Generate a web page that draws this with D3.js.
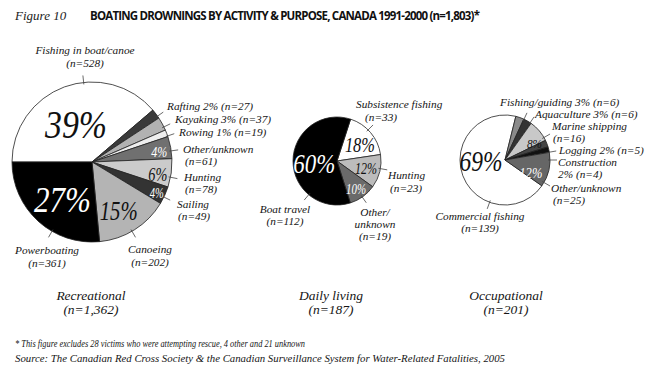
<!DOCTYPE html>
<html>
<head>
<meta charset="utf-8">
<script src="https://cdn.jsdelivr.net/npm/d3@7"></script>
<style>
  body { margin: 0; background: #fff; }
</style>
</head>
<body>
<script>
// Recreational
var recCategories = ["Fishing in boat/canoe", "Rafting", "Kayaking", "Rowing", "Other/unknown", "Hunting", "Sailing", "Canoeing", "Powerboating"];
var recCounts = [528, 27, 37, 19, 61, 78, 49, 202, 361];
var recPercents = [39, 2, 3, 1, 4, 6, 4, 15, 27];

// Daily living
var dailyCategories = ["Subsistence fishing", "Hunting", "Other/unknown", "Boat travel"];
var dailyCounts = [33, 23, 19, 112];
var dailyPercents = [18, 12, 10, 60];

// Occupational
var occCategories = ["Commercial fishing", "Fishing/guiding", "Aquaculture", "Marine shipping", "Logging", "Construction", "Other/unknown"];
var occCounts = [139, 6, 6, 16, 5, 4, 25];
var occPercents = [69, 3, 3, 8, 2, 2, 12];

var groupNames = ["Recreational", "Daily living", "Occupational"];
var groupTotals = ["1,362", "187", "201"];

// pick the first serif face that is really there
function hasFont(name) {
  var c = document.createElement("canvas").getContext("2d");
  var s = "Fishing in boat/canoe 0123456789%";
  var bases = ["monospace", "sans-serif"];
  return bases.some(function(b) {
    c.font = "italic 40px " + b;
    var w0 = c.measureText(s).width;
    c.font = "italic 40px '" + name + "', " + b;
    return c.measureText(s).width !== w0;
  });
}
var serifName = ["Liberation Serif", "DejaVu Serif", "Noto Serif", "Times New Roman", "FreeSerif"].filter(hasFont)[0];
var serif = serifName ? "'" + serifName + "', serif" : "serif";
var sans = "'Open Sans', 'DejaVu Sans', sans-serif";

var w = 654, h = 371;
var svg = d3.select("body").append("svg").attr("width", w).attr("height", h);

// layout of each pie: fills, labels (dx/dy from centre), leader angle, inner % label
var pies = [
  {
    cats: recCategories, counts: recCounts, pcts: recPercents,
    cx: 92, cy: 162, r: 80, start: -90, lh: 13,
    fills: ["#fff", "#3a3a3a", "#b2b2b2", "#eee", "#707070", "#cbcbcb", "#333", "#b4b4b4", "#000"],
    labels: [
      { lines: ["{c}", "(n={n})"], dx: -7, dy: -108, anchor: "middle", lead: -6 },
      { lines: ["{c} {p}% (n={n})"], dx: 75, dy: -52, lead: 55 },
      { lines: ["{c} {p}% (n={n})"], dx: 83, dy: -39, lead: 64 },
      { lines: ["{c} {p}% (n={n})"], dx: 87, dy: -26, lead: 71 },
      { lines: ["{c}", "(n={n})"], dx: 91, dy: -9, lh: 12, lead: 82, ind: [0, 2] },
      { lines: ["{c}", "(n={n})"], dx: 92, dy: 19, lh: 12, lead: 101, ind: [0, 1] },
      { lines: ["{c}", "(n={n})"], dx: 85, dy: 46, lh: 12, lead: 116, ind: [0, 1] },
      { lines: ["{c}", "(n={n})"], dx: 58, dy: 91, anchor: "middle", lead: 150 },
      { lines: ["{c}", "(n={n})"], dx: -45, dy: 92, anchor: "middle", lead: 210 }
    ],
    inner: [
      { a: -23, r: 41, size: 40, w: 62, fill: "#111" }, null, null, null,
      { a: 82, r: 68, size: 14, w: 16, fill: "#fff" },
      { a: 101, r: 67, size: 18, w: 19, fill: "#111" },
      { a: 116, r: 72, size: 14, w: 14, fill: "#fff" },
      { a: 151, r: 55, size: 28, w: 38, fill: "#111" },
      { a: 218, r: 48, size: 36, w: 57, fill: "#fff" }
    ],
    foot: 91
  },
  {
    cats: dailyCategories, counts: dailyCounts, pcts: dailyPercents,
    cx: 337, cy: 161, r: 44, start: 18, lh: 13,
    fills: ["#fff", "#bcbcbc", "#6a6a6a", "#000"],
    labels: [
      { lines: ["{c}", "(n={n})"], dx: 19, dy: -53, lead: 45, ind: [0, 9] },
      { lines: ["{c}", "(n={n})"], dx: 51, dy: 18, lead: 100, ind: [0, 2] },
      { lines: ["Other/", "unknown", "(n={n})"], dx: 38, dy: 55, lh: 12, anchor: "middle", lead: 145 },
      { lines: ["{c}", "(n={n})"], dx: -52, dy: 52, lh: 12, anchor: "middle", lead: 220 }
    ],
    inner: [
      { a: 55, r: 28, size: 22, w: 30, fill: "#111" },
      { a: 105, r: 30, size: 16, w: 22, fill: "#111" },
      { a: 146, r: 34, size: 14, w: 20, fill: "#fff" },
      { a: 262, r: 23, size: 27, w: 42, fill: "#fff" }
    ],
    foot: 331
  },
  {
    cats: occCategories, counts: occCounts, pcts: occPercents,
    cx: 505, cy: 160, r: 45, start: 125, lh: 12,
    fills: ["#fff", "#8a8a8a", "#333", "#c8c8c8", "#444", "#111", "#666"],
    labels: [
      { lines: ["{c}", "(n={n})"], dx: -25, dy: 60, anchor: "middle", lead: 200 },
      { lines: ["{c} {p}% (n={n})"], dx: -5, dy: -54, lead: 25 },
      { lines: ["{c} {p}% (n={n})"], dx: 30, dy: -42, lead: 34 },
      { lines: ["{c}", "(n={n})"], dx: 47, dy: -30, lead: 60, ind: [0, 1] },
      { lines: ["{c} {p}% (n={n})"], dx: 54, dy: -6, lead: 80 },
      { lines: ["{c}", "{p}% (n={n})"], dx: 53, dy: 6, lead: 90 },
      { lines: ["{c}", "(n={n})"], dx: 46, dy: 32, lead: 120, ind: [0, 2] }
    ],
    inner: [
      { a: 268, r: 24, size: 29, w: 43, fill: "#111" }, null, null,
      { a: 60, r: 34, size: 13, w: 15, fill: "#111" }, null, null,
      { a: 117, r: 29, size: 15, w: 23, fill: "#fff" }
    ],
    foot: 506
  }
];

var rad = Math.PI / 180;

function italic(sel) {
  return sel.attr("font-family", serif).attr("font-style", "italic");
}

pies.forEach(function(p, gi) {
  var pie = d3.pie().sort(null).value(function(d) { return d; })
    .startAngle(p.start * rad).endAngle(p.start * rad + 2 * Math.PI);
  var arc = d3.arc().innerRadius(0).outerRadius(p.r);
  var g = svg.append("g").attr("transform", "translate(" + p.cx + "," + p.cy + ")");

  g.selectAll("path.slice")
    .data(pie(p.counts))
    .enter()
    .append("path")
    .attr("class", "slice")
    .attr("d", arc)
    .attr("fill", function(d, i) { return p.fills[i]; })
    .attr("stroke", "#222")
    .attr("stroke-width", 0.8)
    .attr("stroke-linejoin", "round");

  // leader ticks
  g.selectAll("line.lead")
    .data(p.labels)
    .enter()
    .append("line")
    .attr("class", "lead")
    .attr("x1", function(d) { return d3.pointRadial(d.lead * rad, p.r - 2)[0]; })
    .attr("y1", function(d) { return d3.pointRadial(d.lead * rad, p.r - 2)[1]; })
    .attr("x2", function(d) { return d3.pointRadial(d.lead * rad, p.r + 7)[0]; })
    .attr("y2", function(d) { return d3.pointRadial(d.lead * rad, p.r + 7)[1]; })
    .attr("stroke", "#444")
    .attr("stroke-width", 0.8);

  // outside labels
  p.labels.forEach(function(l, i) {
    var t = italic(g.append("text"))
      .attr("font-size", 11.3)
      .attr("fill", "#151515")
      .attr("text-anchor", l.anchor || "start");
    l.lines.forEach(function(s, k) {
      var txt = s.replace("{c}", p.cats[i]).replace("{p}", p.pcts[i]).replace("{n}", p.counts[i]);
      t.append("tspan")
        .attr("x", l.dx + (l.ind ? l.ind[k] : 0))
        .attr("y", l.dy + k * (l.lh || p.lh))
        .text(txt);
    });
  });

  // percentages inside the slices
  italic(g.selectAll("text.pct")
    .data(p.inner)
    .enter()
    .filter(function(d) { return d; })
    .append("text"))
    .attr("class", "pct")
    .attr("x", function(d) { return d3.pointRadial(d.a * rad, d.r)[0] - d.w / 2; })
    .attr("y", function(d) { return d3.pointRadial(d.a * rad, d.r)[1]; })
    .attr("dominant-baseline", "central")
    .attr("font-size", function(d) { return d.size; })
    .attr("textLength", function(d) { return d.w; })
    .attr("lengthAdjust", "spacingAndGlyphs")
    .attr("fill", function(d) { return d.fill; })
    .text(function(d) { return p.pcts[p.inner.indexOf(d)] + "%"; });

  // group name under each pie
  var f = italic(svg.append("text")).attr("text-anchor", "middle").attr("font-size", 13.5).attr("fill", "#151515");
  f.append("tspan").attr("x", p.foot).attr("y", 300).text(groupNames[gi]);
  f.append("tspan").attr("x", p.foot).attr("y", 314).text("(n=" + groupTotals[gi] + ")");
});

// heading
italic(svg.append("text")).attr("x", 15).attr("y", 20).attr("font-size", 13).attr("fill", "#222")
  .text("Figure 10");
svg.append("text")
  .attr("x", 90).attr("y", 20)
  .attr("font-family", sans)
  .attr("font-weight", "bold")
  .attr("fill", "#111")
  .attr("font-size", 11.5)
  .attr("textLength", 390)
  .attr("lengthAdjust", "spacing")
  .text("BOATING DROWNINGS BY ACTIVITY & PURPOSE, CANADA 1991-2000 (n=1,803)*");

// notes
italic(svg.append("text")).attr("x", 15).attr("y", 347).attr("font-size", 10).attr("fill", "#151515")
  .attr("textLength", 290).attr("lengthAdjust", "spacingAndGlyphs")
  .text("* This figure excludes 28 victims who were attempting rescue, 4 other and 21 unknown");
italic(svg.append("text")).attr("x", 15).attr("y", 362).attr("font-size", 10).attr("fill", "#151515")
  .attr("textLength", 490).attr("lengthAdjust", "spacingAndGlyphs")
  .text("Source: The Canadian Red Cross Society & the Canadian Surveillance System for Water-Related Fatalities, 2005");
</script>
</body>
</html>
